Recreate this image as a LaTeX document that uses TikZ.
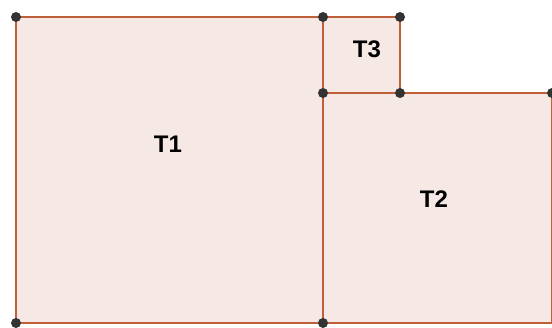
\documentclass[tikz,border=0pt]{standalone}
\usepackage{fontspec}
\setmainfont{Liberation Sans}
\usepackage{xcolor}
\usetikzlibrary{positioning,calc}
\definecolor{edgebrown}{RGB}{190,95,55}
\definecolor{tilefill}{RGB}{246,232,228}
\definecolor{dotgrey}{RGB}{51,51,51}
\tikzset{
    tile/.style={draw=edgebrown, fill=tilefill, line width=1.6pt},
    corner/.style={fill=dotgrey},
    tilelabel/.style={font=\fontsize{24}{24}\selectfont\bfseries}
}
\begin{document}
\begin{tikzpicture}[x=1pt, y=-1pt]
    \useasboundingbox (0,0) rectangle (552,327);

    % corner points
    \coordinate (a) at (16,17);
    \coordinate (b) at (323,17);
    \coordinate (c) at (400,17);
    \coordinate (d) at (323,93);
    \coordinate (e) at (400,93);
    \coordinate (f) at (552,93);
    \coordinate (g) at (16,323);
    \coordinate (h) at (323,323);
    \coordinate (k) at (552,323);

    % tiles
    \draw [tile] (a) rectangle (h);
    \draw [tile] (b) rectangle (e);
    \draw [tile] (d) rectangle (k);

    % labels
    \node [tilelabel] (t1) at ($(a)!0.5!(h)+(-1.5,-26)$) {T1};
    \node [tilelabel] (t2) at ($(d)!0.5!(k)+(-3.5,-9)$) {T2};
    \node [tilelabel] (t3) at ($(b)!0.5!(e)+(5.5,-6)$) {T3};

    % dots at the corners
    \foreach \p in {a,b,c,d,e,f,g,h}
        \fill [corner] (\p) circle (5pt);
\end{tikzpicture}
\end{document}
